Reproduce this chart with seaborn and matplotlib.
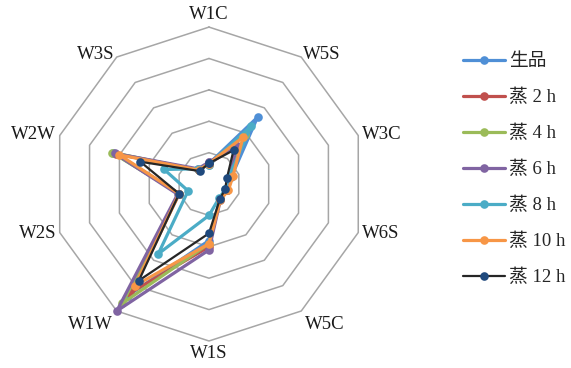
import numpy as np
import pandas as pd
import matplotlib
matplotlib.use("Agg")
import matplotlib.pyplot as plt
import seaborn as sns

# Electronic-nose sensors, clockwise from the top
sensors = ["W1C", "W5S", "W3C", "W6S", "W5C", "W1S", "W1W", "W2S", "W2W", "W3S"]

raw = [0.65, 2.63, 0.75, 0.60, 0.60, 1.80, 4.40, 1.00, 3.20, 0.55]
steam_2h = [0.65, 1.50, 0.70, 0.60, 0.60, 2.00, 4.30, 1.00, 3.10, 0.55]
steam_4h = [0.65, 1.95, 0.70, 0.60, 0.60, 1.90, 4.70, 1.00, 3.25, 0.55]
steam_6h = [0.70, 1.50, 0.70, 0.60, 0.62, 2.10, 5.00, 1.05, 3.15, 0.60]
steam_8h = [0.60, 2.30, 0.65, 0.55, 0.55, 1.00, 2.75, 0.70, 1.50, 0.60]
steam_10h = [0.65, 1.85, 0.80, 0.65, 0.62, 1.90, 4.00, 1.00, 3.00, 0.55]
steam_12h = [0.66, 1.33, 0.60, 0.54, 0.59, 1.57, 3.80, 1.00, 2.30, 0.51]

series_names = ["生品", "蒸 2 h", "蒸 4 h", "蒸 6 h", "蒸 8 h", "蒸 10 h", "蒸 12 h"]
series_values = [raw, steam_2h, steam_4h, steam_6h, steam_8h, steam_10h, steam_12h]
line_colors = ["#4f8fd6", "#c0504d", "#9bbb59", "#8064a2", "#4bacc6", "#f79646", "#262626"]
marker_colors = ["#4f8fd6", "#c0504d", "#9bbb59", "#8064a2", "#4bacc6", "#f79646", "#1f497d"]

ring_levels = [1, 2, 3, 4, 5]

sns.set_style("white")
plt.rcParams["font.family"] = ["Liberation Serif", "Noto Sans CJK SC"]

fig = plt.figure(figsize=(5.71, 3.68), dpi=100)
ax = fig.add_axes([0.091, 0.0734, 0.55, 0.853], polar=True)
ax.set_theta_offset(np.pi / 2)
ax.set_theta_direction(-1)

n = len(sensors)
theta = np.arange(n) * 2 * np.pi / n
theta_closed = np.append(theta, theta[0])

# decagonal grid rings
for lvl in ring_levels:
    ax.plot(theta_closed, np.full(n + 1, lvl), color="#a6a6a6", lw=1.1, zorder=1, clip_on=False)

frames = []
for name, vals in zip(series_names, series_values):
    frames.append(pd.DataFrame({"theta": theta_closed,
                                "value": np.append(vals, vals[0]),
                                "series": name}))
data = pd.concat(frames, ignore_index=True)

for name, lc, mc in zip(series_names, line_colors, marker_colors):
    sub = data[data["series"] == name]
    lw = 1.6 if name == "蒸 12 h" else 2.3
    sns.lineplot(data=sub, x="theta", y="value", ax=ax, sort=False, estimator=None,
                 color=lc, lw=lw, marker="o", markersize=6.2,
                 markerfacecolor=mc, markeredgecolor=mc, markeredgewidth=0,
                 label=name, clip_on=False, zorder=3, legend=False)

ax.set_ylim(0, 5)
ax.grid(False)
ax.spines["polar"].set_visible(False)
ax.set_xticks([])
ax.set_yticks([])
ax.set_xlabel("")
ax.set_ylabel("")
ax.set_facecolor("white")

# sensor labels around the outer ring
for t, lab in zip(theta, sensors):
    s = np.sin(t)
    c = np.cos(t)
    r = 5.12
    if abs(s) < 0.1:
        ha = "center"
    elif s > 0:
        ha = "left"
    else:
        ha = "right"
    if c > 0.9:
        va = "bottom"
    elif c < -0.5:
        va = "top"
        if abs(s) >= 0.1:
            r = 5.2
    else:
        va = "center"
    ax.text(t, r, lab, ha=ha, va=va, fontsize=13.5, color="#1a1a1a")

handles, labels = ax.get_legend_handles_labels()
fig.legend(handles, labels, loc="upper left", bbox_to_anchor=(0.811, 0.856),
           frameon=False, fontsize=13.5, handlelength=2.25, handletextpad=0.2,
           labelspacing=0.99, borderpad=0, borderaxespad=0)

fig.savefig("out.png", dpi=100, facecolor="white")
